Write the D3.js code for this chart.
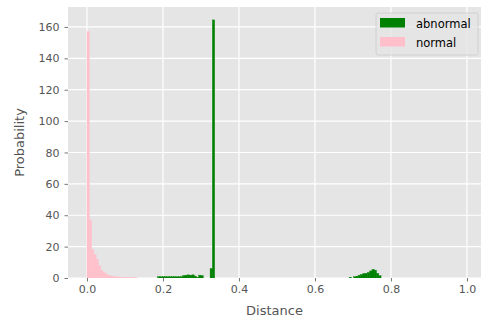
<!DOCTYPE html>
<html>
<head>
<meta charset="utf-8">
<script src="https://cdn.jsdelivr.net/npm/d3@7"></script>
<style>
  html, body { margin: 0; padding: 0; background: #ffffff; }
  svg { display: block; font-family: "DejaVu Sans", sans-serif; }
</style>
</head>
<body>
<svg id="chart" width="482" height="322"></svg>
<script>
// Histogram of distances for the two classes (density-scaled bar heights).
const binWidth = 0.006;

// "normal": bins start at 0.0
const normalStart = 0.0;
const normalValues = [157, 37, 18, 15, 12, 8, 5, 3.5, 2.5, 1.8, 1.3, 1.0, 0.8,
                      0.6, 0.5, 0.5, 0.4, 0.4, 0.3, 0.3, 0.3, 0.2];

// "abnormal": low cluster ending in a tall spike, plus a hump near 0.75
const abnormalStartA = 0.186;
const abnormalValuesA = [0.8, 0.8, 0.8, 0.8, 0.8, 0.8, 0.8, 0.8, 0.8, 0.8, 0.8,
                         1.5, 1.8, 2.0, 1.8, 2.0, 1.2, 0.4, 1.8, 1.5,
                         0, 0, 0, 6, 164.5, 0];
const abnormalStartB = 0.690;
const abnormalValuesB = [0.5, 0, 0.8, 1.2, 1.8, 2.2, 2.8, 3.0, 3.5, 4.5, 5.5, 5.0, 3.0, 1.5, 0];

const xTicks = [0.0, 0.2, 0.4, 0.6, 0.8, 1.0];
const yTicks = [0, 20, 40, 60, 80, 100, 120, 140, 160];

const seriesNames = ["abnormal", "normal"];
const seriesColors = { abnormal: "#008000", normal: "#ffc0cb" };

function toBins(start, values) {
  return values.map((v, i) => ({ x0: start + i * binWidth, x1: start + (i + 1) * binWidth, v }));
}
const normalBins = toBins(normalStart, normalValues);
const abnormalBins = toBins(abnormalStartA, abnormalValuesA).concat(toBins(abnormalStartB, abnormalValuesB));

const svg = d3.select("#chart");
const panel = { left: 68, right: 481, top: 7, bottom: 278 };

const x = d3.scaleLinear().domain([-0.05, 1.037]).range([panel.left, panel.right]);
const yMax = 164.5 * 1.05;
const y = d3.scaleLinear().domain([0, yMax]).range([panel.bottom, panel.top]);

// panel background
svg.append("rect")
  .attr("x", panel.left).attr("y", panel.top)
  .attr("width", panel.right - panel.left).attr("height", panel.bottom - panel.top)
  .attr("fill", "#e5e5e5");

// grid
const grid = svg.append("g").attr("stroke", "#ffffff").attr("stroke-width", 1.2);
grid.selectAll("line.gx").data(xTicks).join("line")
  .attr("x1", d => x(d)).attr("x2", d => x(d))
  .attr("y1", panel.top).attr("y2", panel.bottom);
grid.selectAll("line.gy").data(yTicks).join("line")
  .attr("x1", panel.left).attr("x2", panel.right)
  .attr("y1", d => y(d)).attr("y2", d => y(d));

// bars
svg.append("clipPath").attr("id", "panelClip")
  .append("rect").attr("x", panel.left).attr("y", panel.top)
  .attr("width", panel.right - panel.left).attr("height", panel.bottom - panel.top);

const bars = svg.append("g").attr("clip-path", "url(#panelClip)");
function drawBars(bins, color) {
  bars.append("g").selectAll("rect").data(bins.filter(d => d.v > 0)).join("rect")
    .attr("x", d => x(d.x0)).attr("width", d => x(d.x1) - x(d.x0))
    .attr("y", d => y(d.v)).attr("height", d => y(0) - y(d.v))
    .attr("fill", color).attr("stroke", color).attr("stroke-width", 0.4);
}
drawBars(abnormalBins, seriesColors.abnormal);
drawBars(normalBins, seriesColors.normal);

// axes
const xAxis = d3.axisBottom(x).tickValues(xTicks).tickFormat(d3.format(".1f"))
  .tickSize(3.5).tickPadding(4);
const yAxis = d3.axisLeft(y).tickValues(yTicks).tickFormat(d3.format("d"))
  .tickSize(3.5).tickPadding(5);

const gx = svg.append("g").attr("transform", `translate(0,${panel.bottom})`).call(xAxis);
const gy = svg.append("g").attr("transform", `translate(${panel.left},0)`).call(yAxis);
[gx, gy].forEach(g => {
  g.select(".domain").remove();
  g.selectAll(".tick line").attr("stroke", "#555555").attr("stroke-width", 0.8);
  g.selectAll(".tick text").attr("fill", "#555555")
    .attr("font-family", "DejaVu Sans, sans-serif").attr("font-size", 11);
});

// axis titles
svg.append("text")
  .attr("x", (panel.left + panel.right) / 2).attr("y", 315)
  .attr("text-anchor", "middle").attr("fill", "#555555").attr("font-size", 13)
  .text("Distance");
svg.append("text")
  .attr("transform", `translate(24,${(panel.top + panel.bottom) / 2}) rotate(-90)`)
  .attr("text-anchor", "middle").attr("fill", "#555555").attr("font-size", 13)
  .text("Probability");

// legend
const legend = svg.append("g").attr("transform", "translate(376,13)");
legend.append("rect")
  .attr("x", 0).attr("y", 0).attr("width", 102).attr("height", 42).attr("rx", 2)
  .attr("fill", "#e5e5e5").attr("fill-opacity", 0.8)
  .attr("stroke", "#cccccc").attr("stroke-width", 0.8);
const items = legend.selectAll("g.item").data(seriesNames).join("g")
  .attr("transform", (d, i) => `translate(4,${5 + i * 19})`);
items.append("rect").attr("width", 25).attr("height", 9.5)
  .attr("fill", d => seriesColors[d]);
items.append("text").attr("x", 36).attr("y", 9.5)
  .attr("fill", "#000000").attr("font-size", 11.5)
  .text(d => d);
</script>
</body>
</html>
